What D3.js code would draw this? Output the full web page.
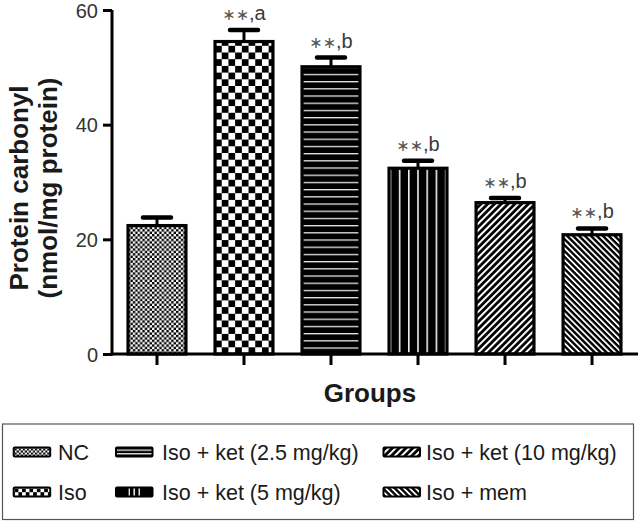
<!DOCTYPE html>
<html>
<head>
<meta charset="utf-8">
<script src="https://cdn.jsdelivr.net/npm/d3@7/dist/d3.min.js"></script>
<style>
  html, body { margin: 0; padding: 0; background: #fff; }
  svg { display: block; }
</style>
</head>
<body>
<script>
// ---- data ----
const categories = ["NC", "Iso", "Iso + ket (2.5 mg/kg)", "Iso + ket (5 mg/kg)", "Iso + ket (10 mg/kg)", "Iso + mem"];
const means = [22.4, 54.5, 50.1, 32.4, 26.4, 20.8];
const errors = [1.4, 2.0, 1.6, 1.3, 0.8, 1.1];
const sigLabels = ["", "\u2217\u2217,a", "\u2217\u2217,b", "\u2217\u2217,b", "\u2217\u2217,b", "\u2217\u2217,b"];
const patternTypes = ["fine", "checker", "hlines", "vlines", "diagR", "diagL"];
const yTicks = [0, 20, 40, 60];
const yTitle = ["Protein carbonyl", "(nmol/mg protein)"];
const xTitle = "Groups";

const W = 638, H = 522;
const svg = d3.select("body").append("svg").attr("width", W).attr("height", H);
svg.append("rect").attr("width", W).attr("height", H).attr("fill", "#fff");
const defs = svg.append("defs");

const x = d3.scaleBand().domain(categories).range([112, 637]).paddingInner(0.3).paddingOuter(0.167);
const y = d3.scaleLinear().domain([0, 60]).range([354, 10]);

function makePattern(id, type, ox, oy, s) {
  const p = defs.append("pattern").attr("id", id).attr("patternUnits", "userSpaceOnUse").attr("x", ox).attr("y", oy);
  if (type === "fine" || type === "checker") {
    const c = type === "fine" ? 2.4 * s : 6.7 * s;
    p.attr("width", 2 * c).attr("height", 2 * c);
    p.append("rect").attr("width", 2 * c).attr("height", 2 * c).attr("fill", "#fff");
    p.append("rect").attr("width", c).attr("height", c).attr("fill", "#000");
    p.append("rect").attr("x", c).attr("y", c).attr("width", c).attr("height", c).attr("fill", "#000");
  } else if (type === "hlines") {
    const per = 7.2 * s;
    p.attr("width", 10).attr("height", per);
    p.append("rect").attr("width", 10).attr("height", per).attr("fill", "#000");
    p.append("rect").attr("y", per / 2).attr("width", 10).attr("height", 1.3).attr("fill", "#e8e8e8");
  } else if (type === "vlines") {
    const per = 9.2 * s;
    p.attr("width", per).attr("height", 10);
    p.append("rect").attr("width", per).attr("height", 10).attr("fill", "#000");
    p.append("rect").attr("x", 0).attr("width", 1.6).attr("height", 10).attr("fill", "#f0f0f0");
  } else {
    const per = type === "diagR" ? 4.8 : 4.2;
    const w = type === "diagR" ? 2.0 : 1.8;
    p.attr("width", per).attr("height", per).attr("patternTransform", `rotate(${type === "diagR" ? 45 : -45})`);
    p.append("rect").attr("width", per).attr("height", per).attr("fill", "#000");
    p.append("rect").attr("width", w).attr("height", per).attr("fill", "#fff");
  }
}

// bar patterns
categories.forEach((c, i) => {
  const t = patternTypes[i];
  const bx = x(c), cx = bx + x.bandwidth() / 2;
  let ox = bx + 1.5, oy = y(0);
  if (t === "vlines") ox = cx - 0.8 - 9.2 * 3;
  if (t === "hlines") oy = y(0) - 3;
  makePattern("pb" + i, t, ox, oy, 1);
});

// bars
const bars = svg.append("g");
categories.forEach((c, i) => {
  const bx = x(c), bw = x.bandwidth();
  bars.append("rect")
    .attr("x", bx + 1.5).attr("y", y(means[i]))
    .attr("width", bw - 3).attr("height", y(0) - y(means[i]))
    .attr("fill", `url(#pb${i})`).attr("stroke", "#000").attr("stroke-width", 3.2);
});

// error bars + significance labels
const eg = svg.append("g").attr("stroke", "#000");
categories.forEach((c, i) => {
  const cx = x(c) + x.bandwidth() / 2;
  const top = y(means[i] + errors[i]);
  eg.append("line").attr("x1", cx).attr("x2", cx).attr("y1", y(means[i])).attr("y2", top).attr("stroke-width", 3);
  eg.append("line").attr("x1", cx - 14).attr("x2", cx + 14).attr("y1", top).attr("y2", top)
    .attr("stroke-width", 4.5).attr("stroke-linecap", "round");
  if (sigLabels[i]) {
    const parts = sigLabels[i].split(",");
    const t = svg.append("text").attr("x", cx).attr("y", top - 10).attr("text-anchor", "middle")
      .attr("font-family", "Liberation Sans, Arial, DejaVu Sans, sans-serif").attr("fill", "#3a3a3a");
    t.append("tspan").attr("font-family", "DejaVu Sans, sans-serif").attr("font-size", 16)
      .attr("fill", "#555").text(parts[0]);
    t.append("tspan").attr("font-size", 20).text("," + parts[1]);
  }
});

// y axis
const yAxis = d3.axisLeft(y).tickValues(yTicks).tickSize(9).tickPadding(5).tickSizeOuter(0);
const ya = svg.append("g").attr("transform", "translate(112,0)").call(yAxis);
ya.select(".domain").attr("stroke", "#000").attr("stroke-width", 3).attr("d", `M0,${y(60)}V${y(0) + 1.5}`);
ya.selectAll(".tick line").attr("stroke", "#000").attr("stroke-width", 3);
ya.selectAll(".tick text").attr("font-family", "Liberation Sans, Arial, sans-serif").attr("font-size", 20)
  .attr("dy", "0.36em").attr("fill", "#333");

// x axis
const xAxis = d3.axisBottom(x).tickSize(11).tickFormat("").tickSizeOuter(0);
const xa = svg.append("g").attr("transform", `translate(0,${y(0)})`).call(xAxis);
xa.select(".domain").attr("stroke", "#000").attr("stroke-width", 3).attr("d", `M110.5,0H638`);
xa.selectAll(".tick line").attr("stroke", "#000").attr("stroke-width", 3);

// titles
const yt = svg.append("text").attr("transform", `translate(0,${(y(0) + y(60)) / 2 + 6}) rotate(-90)`)
  .attr("text-anchor", "middle").attr("font-family", "Liberation Sans, Arial, sans-serif")
  .attr("font-weight", "bold").attr("font-size", 26).attr("fill", "#1a1a1a");
yt.append("tspan").attr("x", 0).attr("y", 28).text(yTitle[0]);
yt.append("tspan").attr("x", 0).attr("y", 57).text(yTitle[1]);

svg.append("text").attr("x", 370).attr("y", 402).attr("text-anchor", "middle")
  .attr("font-family", "Liberation Sans, Arial, sans-serif").attr("font-weight", "bold")
  .attr("font-size", 26).attr("fill", "#1a1a1a").text(xTitle);

// legend
svg.append("rect").attr("x", 2.5).attr("y", 424).attr("width", 631).attr("height", 95.5)
  .attr("fill", "none").attr("stroke", "#555").attr("stroke-width", 1.2);
const colSw = [12.7, 115, 382.5];
const colTx = [58, 162, 426];
const rowY = [452, 492];
categories.forEach((c, i) => {
  const col = Math.floor(i / 2), row = i % 2;
  const sx = colSw[col], sy = rowY[row] - 5.5, sw = 38.5, sh = 11;
  svg.append("rect").attr("x", sx).attr("y", sy).attr("width", sw).attr("height", sh).attr("rx", 2)
    .attr("fill", "#000");
  const t = patternTypes[i];
  let inset = 2;
  let ox = sx + inset, oy = sy + inset, s = 1;
  if (t === "fine") s = 0.85;
  if (t === "checker") { s = 0.55; }
  if (t === "hlines") { s = 0.5; oy = sy + 1.2; }
  if (t === "vlines") { s = 0.55; ox = sx + sw / 2 - 0.8 - 9.2 * 0.55; }
  makePattern("pl" + i, t, ox, oy, s);
  if (t === "vlines") {
    svg.append("rect").attr("x", sx + sw / 2 - 0.8 - 9.2 * 0.55).attr("y", sy + 2)
      .attr("width", 9.2 * 0.55 * 2 + 1.6).attr("height", sh - 4).attr("fill", `url(#pl${i})`);
  } else {
    svg.append("rect").attr("x", sx + inset).attr("y", sy + inset).attr("width", sw - 2 * inset)
      .attr("height", sh - 2 * inset).attr("fill", `url(#pl${i})`);
  }
  svg.append("text").attr("x", colTx[col]).attr("y", rowY[row] + 7.5)
    .attr("font-family", "Liberation Sans, Arial, sans-serif").attr("font-size", 21.5)
    .attr("fill", "#1a1a1a").text(c);
});
</script>
</body>
</html>
